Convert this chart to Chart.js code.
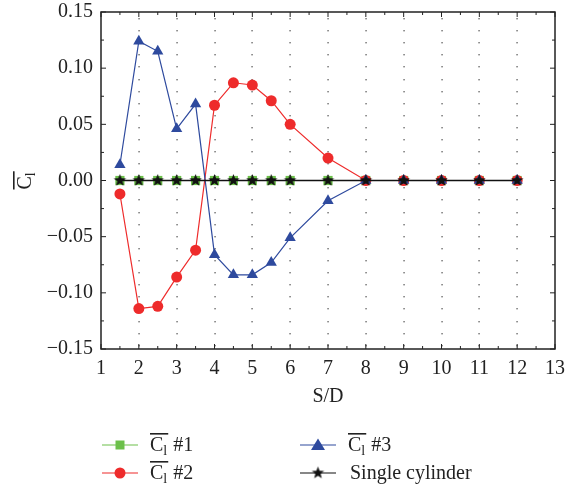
<!DOCTYPE html>
<html>
<head>
<meta charset="utf-8">
<script src="https://cdn.jsdelivr.net/npm/chart.js@4.4.1/dist/chart.umd.min.js"></script>
<style>
  html, body { margin: 0; padding: 0; background: #fff; }
  #wrap { width: 565px; height: 485px; position: relative; }
</style>
</head>
<body>
<div id="wrap"><canvas id="chartCl"></canvas></div>
<script>
// S/D positions and mean lift coefficients
const sd = [1.5, 2, 2.5, 3, 3.5, 4, 4.5, 5, 5.5, 6, 7, 8, 9, 10, 11, 12];
const cl1 = [0, 0, 0, 0, 0, 0, 0, 0, 0, 0, 0, 0, 0, 0, 0, 0];
const cl2 = [-0.012, -0.114, -0.112, -0.086, -0.062, 0.067, 0.087, 0.085, 0.071, 0.050, 0.020, 0, 0, 0, 0, 0];
const cl3 = [0.014, 0.124, 0.115, 0.046, 0.068, -0.066, -0.084, -0.084, -0.073, -0.051, -0.018, 0, 0, 0, 0, 0];
const single = [0, 0, 0, 0, 0, 0, 0, 0, 0, 0, 0, 0, 0, 0, 0, 0];
const xTicks = [1, 2, 3, 4, 5, 6, 7, 8, 9, 10, 11, 12, 13];
const yTicks = [-0.15, -0.10, -0.05, 0.00, 0.05, 0.10, 0.15];

const GREEN = '#6cc04a';
const RED = '#ee2b2b';
const BLUE = '#2e4a9e';
const SERIF = '"Liberation Serif", "DejaVu Serif", serif';

function starImage(r) {
  const c = document.createElement('canvas');
  c.width = c.height = r * 2 + 2;
  const g = c.getContext('2d');
  g.beginPath();
  for (let i = 0; i < 10; i++) {
    const a = -Math.PI / 2 + i * Math.PI / 5;
    const rr = i % 2 === 0 ? r : r * 0.42;
    g.lineTo(c.width / 2 + rr * Math.cos(a), c.height / 2 + rr * Math.sin(a));
  }
  g.closePath();
  g.fillStyle = '#111';
  g.fill();
  return c;
}
const star = starImage(6.5);

const pts = ys => sd.map((x, i) => ({ x: x, y: ys[i] }));

// C with overline and subscript l, then suffix
function drawClLabel(ctx, x, y, size, suffix) {
  ctx.save();
  ctx.font = size + 'px ' + SERIF;
  ctx.textBaseline = 'alphabetic';
  ctx.textAlign = 'left';
  ctx.fillStyle = '#222';
  const cw = ctx.measureText('C').width;
  ctx.fillText('C', x, y);
  ctx.font = Math.round(size * 0.7) + 'px ' + SERIF;
  const lw = ctx.measureText('l').width;
  ctx.fillText('l', x + cw, y + size * 0.22);
  ctx.fillRect(x, y - size * 0.9, cw + lw + 1, 1.6);
  if (suffix) {
    ctx.font = size + 'px ' + SERIF;
    ctx.fillText(suffix, x + cw + lw + 6, y);
  }
  ctx.restore();
}

const furniture = {
  id: 'furniture',
  beforeDatasetsDraw(chart) {
    const { ctx, chartArea: a, scales: { x } } = chart;
    ctx.save();
    // dotted vertical grid
    ctx.fillStyle = '#444';
    for (let v = 2; v <= 12; v++) {
      const px = Math.round(x.getPixelForValue(v));
      for (let py = a.top + 6; py < a.bottom - 2; py += 12.1) {
        ctx.fillRect(px - 0.5, Math.round(py), 1.1, 1.4);
      }
    }
    ctx.restore();
  },
  afterDraw(chart) {
    const { ctx, chartArea: a, scales: { x, y } } = chart;
    ctx.save();
    ctx.strokeStyle = '#222';
    ctx.lineWidth = 1.5;
    ctx.strokeRect(a.left, a.top, a.right - a.left, a.bottom - a.top);
    ctx.lineWidth = 1;
    ctx.beginPath();
    for (let v = 1; v <= 13; v += 0.5) {
      const px = x.getPixelForValue(v);
      const len = Number.isInteger(v) ? 5 : 3;
      ctx.moveTo(px, a.bottom); ctx.lineTo(px, a.bottom - len);
      ctx.moveTo(px, a.top); ctx.lineTo(px, a.top + len);
    }
    for (let k = -6; k <= 6; k++) {
      const py = y.getPixelForValue(k * 0.025);
      const len = k % 2 === 0 ? 5 : 3;
      ctx.moveTo(a.left, py); ctx.lineTo(a.left + len, py);
      ctx.moveTo(a.right, py); ctx.lineTo(a.right - len, py);
    }
    ctx.stroke();

    // axis titles
    ctx.fillStyle = '#222';
    ctx.font = '20px ' + SERIF;
    ctx.textAlign = 'center';
    ctx.textBaseline = 'middle';
    ctx.fillText('S/D', (a.left + a.right) / 2, 397);
    ctx.save();
    ctx.translate(31, y.getPixelForValue(0));
    ctx.rotate(-Math.PI / 2);
    drawClLabel(ctx, -9, 0, 20, '');
    ctx.restore();

    // legend
    const rows = [
      { x0: 102, ly: 445, color: GREEN, mark: 'square', text: '#1', cl: true },
      { x0: 102, ly: 473, color: RED, mark: 'circle', text: '#2', cl: true },
      { x0: 300, ly: 445, color: BLUE, mark: 'triangle', text: '#3', cl: true },
      { x0: 300, ly: 473, color: '#111', mark: 'star', text: 'Single cylinder', cl: false }
    ];
    rows.forEach(r => {
      ctx.strokeStyle = r.color;
      ctx.lineWidth = 1.2;
      ctx.beginPath();
      ctx.moveTo(r.x0, r.ly); ctx.lineTo(r.x0 + 36, r.ly);
      ctx.stroke();
      const cx = r.x0 + 18;
      ctx.fillStyle = r.color;
      ctx.beginPath();
      if (r.mark === 'square') ctx.rect(cx - 4.5, r.ly - 4.5, 9, 9);
      else if (r.mark === 'circle') ctx.arc(cx, r.ly, 5.5, 0, Math.PI * 2);
      else if (r.mark === 'triangle') { ctx.moveTo(cx, r.ly - 6.5); ctx.lineTo(cx + 7, r.ly + 5); ctx.lineTo(cx - 7, r.ly + 5); ctx.closePath(); }
      ctx.fill();
      if (r.mark === 'star') ctx.drawImage(star, cx - star.width / 2, r.ly - star.height / 2);
      if (r.cl) {
        drawClLabel(ctx, r.x0 + 48, r.ly + 6, 20, r.text);
      } else {
        ctx.font = '20px ' + SERIF;
        ctx.textAlign = 'left';
        ctx.textBaseline = 'alphabetic';
        ctx.fillStyle = '#222';
        ctx.fillText(r.text, r.x0 + 50, r.ly + 6);
      }
    });
    ctx.restore();
  }
};

const chartEl = document.getElementById('chartCl');
new Chart(chartEl, {
  type: 'scatter',
  plugins: [furniture],
  data: {
    datasets: [
      { label: 'Cl #1', order: 4, data: pts(cl1), showLine: true, borderColor: GREEN, backgroundColor: GREEN, borderWidth: 1.2, pointStyle: 'rect', pointRadius: 6.5, pointBorderWidth: 0 },
      { label: 'Cl #2', order: 3, data: pts(cl2), showLine: true, borderColor: RED, backgroundColor: RED, borderWidth: 1.2, pointStyle: 'circle', pointRadius: 5.5, pointBorderWidth: 0 },
      { label: 'Cl #3', order: 2, data: pts(cl3), showLine: true, borderColor: BLUE, backgroundColor: BLUE, borderWidth: 1.2, pointStyle: 'triangle', pointRadius: 6.5, pointBorderWidth: 0 },
      { label: 'Single cylinder', order: 1, data: pts(single), showLine: true, borderColor: '#111', backgroundColor: '#111', borderWidth: 1.4, pointStyle: star }
    ]
  },
  options: {
    responsive: true,
    maintainAspectRatio: false,
    animation: false,
    events: [],
    layout: { padding: { left: 0, top: 12, right: 10, bottom: 0 } },
    plugins: { legend: { display: false }, tooltip: { enabled: false } },
    scales: {
      x: {
        type: 'linear', min: 1, max: 13,
        afterBuildTicks: s => { s.ticks = xTicks.map(v => ({ value: v })); },
        afterFit: s => { s.height = 136; s.paddingLeft = 0; s.paddingRight = 0; },
        grid: { display: false },
        border: { display: false },
        ticks: { color: '#222', font: { family: SERIF, size: 20 }, padding: 0, maxRotation: 0, autoSkip: false, callback: v => String(v) }
      },
      y: {
        type: 'linear', min: -0.15, max: 0.15,
        afterBuildTicks: s => { s.ticks = yTicks.map(v => ({ value: v })); },
        afterFit: s => { s.width = 101; s.paddingTop = 0; s.paddingBottom = 0; },
        grid: { display: false },
        border: { display: false },
        ticks: { color: '#222', font: { family: SERIF, size: 20 }, padding: 0, autoSkip: false, callback: v => (v < 0 ? '\u2212' : '') + Math.abs(v).toFixed(2) }
      }
    }
  }
});
</script>
</body>
</html>
